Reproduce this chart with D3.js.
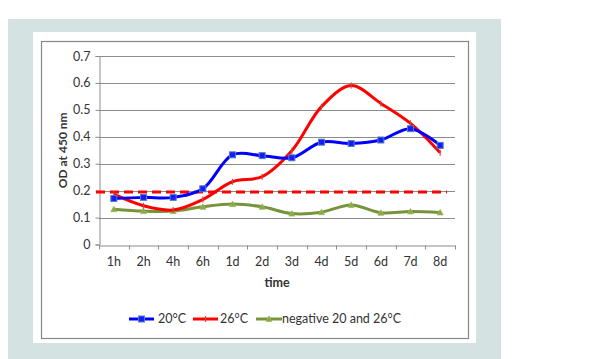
<!DOCTYPE html>
<html>
<head>
<meta charset="utf-8">
<script src="https://cdn.jsdelivr.net/npm/d3@7"></script>
<style>
  body { margin: 0; background: #fff; }
  text { font-family: Lato, "Open Sans", sans-serif; fill: #333; }
</style>
</head>
<body>
<div id="chart"></div>
<script>
// OD readings
const times = ["1h", "2h", "4h", "6h", "1d", "2d", "3d", "4d", "5d", "6d", "7d", "8d"];
const od20 = [0.171, 0.175, 0.175, 0.207, 0.333, 0.330, 0.322, 0.380, 0.375, 0.388, 0.430, 0.368];
const od26 = [0.187, 0.144, 0.128, 0.167, 0.233, 0.252, 0.348, 0.512, 0.590, 0.524, 0.450, 0.341];
const odNeg = [0.131, 0.124, 0.124, 0.140, 0.150, 0.140, 0.115, 0.120, 0.147, 0.118, 0.123, 0.119];
const cutoff = 0.195;
const yTicks = [0, 0.1, 0.2, 0.3, 0.4, 0.5, 0.6, 0.7];
const seriesNames = ["20°C", "26°C", "negative 20 and 26°C"];

const W = 603, H = 359;
const svg = d3.select("#chart").append("svg")
    .attr("width", W)
    .attr("height", H);

// backgrounds / frames
svg.append("rect").attr("x", 8).attr("y", 19).attr("width", 493).attr("height", 340).attr("fill", "#d4e3e2");
svg.append("rect").attr("x", 33).attr("y", 32).attr("width", 443).attr("height", 311).attr("fill", "#fff");
svg.append("rect").attr("x", 41.5).attr("y", 41.5).attr("width", 427).attr("height", 297)
    .attr("fill", "none").attr("stroke", "#888").attr("stroke-width", 1.2);

const plotL = 99, plotR = 455, plotT = 56, plotB = 244.5;

const x = d3.scaleBand().domain(times).range([plotL, plotR]);
const y = d3.scaleLinear().domain([0, 0.7]).range([plotB, plotT]);
const cx = d => x(d) + x.bandwidth() / 2;

// gridlines
svg.append("g").selectAll("line")
    .data(yTicks.slice(1))
    .enter().append("line")
    .attr("x1", plotL).attr("x2", plotR)
    .attr("y1", d => Math.round(y(d)) + 0.5).attr("y2", d => Math.round(y(d)) + 0.5)
    .attr("stroke", "#8c8c8c").attr("stroke-width", 1);

// axes
const yAxis = d3.axisLeft(y).tickValues(yTicks).tickSize(4).tickPadding(5)
    .tickFormat(d => d === 0 ? "0" : d3.format(".1f")(d));
svg.append("g")
    .attr("transform", "translate(" + (plotL + 0.5) + ",0)")
    .call(yAxis)
    .call(g => g.select(".domain").attr("stroke", "#8c8c8c"))
    .call(g => g.selectAll(".tick line").attr("stroke", "#8c8c8c"))
    .call(g => g.selectAll("text").style("font-size", "12.5px").attr("fill", "#404040"));

const xAxis = d3.axisBottom(x).tickSize(0).tickPadding(12);
const gx = svg.append("g")
    .attr("transform", "translate(0," + (Math.round(plotB) + 0.5) + ")")
    .call(xAxis)
    .call(g => g.select(".domain").attr("stroke", "#8c8c8c"))
    .call(g => g.selectAll("text").style("font-size", "12.5px").attr("fill", "#404040"));

// category boundary ticks
gx.append("g").selectAll("line")
    .data(times.concat(["end"]))
    .enter().append("line")
    .attr("x1", (d, i) => Math.round(plotL + i * x.bandwidth()) + 0.5)
    .attr("x2", (d, i) => Math.round(plotL + i * x.bandwidth()) + 0.5)
    .attr("y1", 0).attr("y2", 4)
    .attr("stroke", "#8c8c8c");

// axis titles
svg.append("text")
    .attr("x", (plotL + plotR) / 2).attr("y", 287)
    .attr("text-anchor", "middle")
    .style("font-size", "12.5px").style("font-weight", "bold")
    .text("time");

svg.append("text")
    .attr("transform", "translate(67," + ((plotT + plotB) / 2) + ") rotate(-90)")
    .attr("text-anchor", "middle")
    .style("font-size", "12px").style("font-weight", "bold")
    .text("OD at 450 nm");

// cutoff dashed line
svg.append("line")
    .attr("x1", 96).attr("x2", 447)
    .attr("y1", y(cutoff)).attr("y2", y(cutoff))
    .attr("stroke", "#ff0000").attr("stroke-width", 3)
    .attr("stroke-dasharray", "9,5");

const line = d3.line()
    .x((d, i) => cx(times[i]))
    .y(d => y(d))
    .curve(d3.curveCatmullRom.alpha(0.5));

const series = [
    { name: seriesNames[0], values: od20, color: "#0000ff", marker: "square" },
    { name: seriesNames[1], values: od26, color: "#ff0000", marker: "dash" },
    { name: seriesNames[2], values: odNeg, color: "#77933c", marker: "triangle" }
];

function drawMarker(g, type) {
    if (type === "square") {
        g.append("rect").attr("x", -3).attr("y", -3).attr("width", 6).attr("height", 6)
            .attr("fill", "#1a1aff").attr("stroke", "#4f81bd").attr("stroke-width", 1);
    } else if (type === "dash") {
        g.append("line").attr("x1", 0).attr("x2", 0).attr("y1", -3).attr("y2", 3)
            .attr("stroke", "#c0504d").attr("stroke-width", 1.2);
    } else {
        g.append("path").attr("d", "M0,-3L3,2.5L-3,2.5Z")
            .attr("fill", "#8aa64a").attr("stroke", "#9bbb59").attr("stroke-width", 0.8);
    }
}

series.slice().reverse().forEach(s => {
    svg.append("path")
        .datum(s.values)
        .attr("d", line)
        .attr("fill", "none")
        .attr("stroke", s.color)
        .attr("stroke-width", 3);
    s.values.forEach((v, i) => {
        const g = svg.append("g").attr("transform", "translate(" + cx(times[i]) + "," + y(v) + ")");
        drawMarker(g, s.marker);
    });
});

// legend
const legendItems = [
    { x1: 129, x2: 154, tx: 158 },
    { x1: 193, x2: 218, tx: 220 },
    { x1: 256, x2: 282, tx: 282 }
];
series.forEach((s, i) => {
    const li = legendItems[i];
    svg.append("line")
        .attr("x1", li.x1).attr("x2", li.x2)
        .attr("y1", 319).attr("y2", 319)
        .attr("stroke", s.color).attr("stroke-width", 3);
    const g = svg.append("g").attr("transform", "translate(" + ((li.x1 + li.x2) / 2) + ",319)");
    drawMarker(g, s.marker);
    svg.append("text")
        .attr("x", li.tx).attr("y", 323)
        .style("font-size", "12.5px")
        .attr("fill", "#404040")
        .text(s.name);
});
</script>
</body>
</html>
